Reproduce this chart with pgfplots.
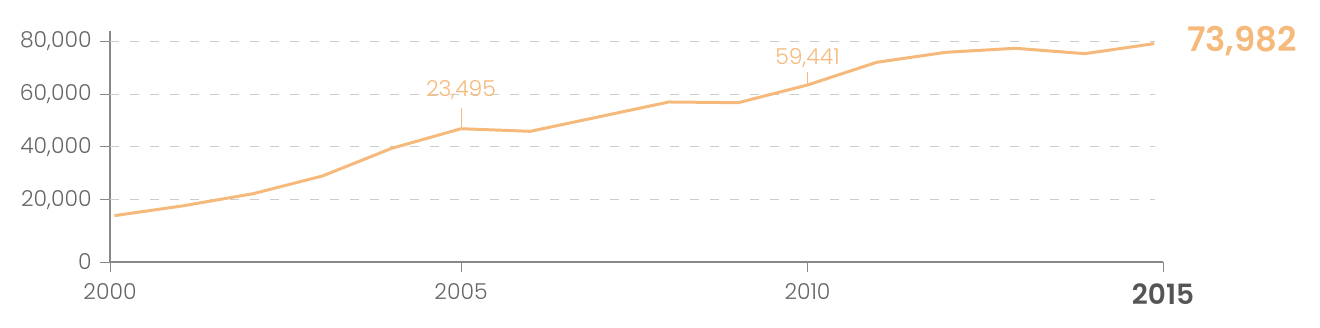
\documentclass[border=0pt]{standalone}
\usepackage{pgfplots}
\pgfplotsset{compat=1.18}
\usepackage{fontspec}
\setmainfont{Poppins}[UprightFont=* Light, BoldFont=* SemiBold]
\definecolor{lineor}{HTML}{F5B97B}
\definecolor{tickgray}{HTML}{666666}
\definecolor{axgray}{HTML}{888888}
\definecolor{gridgray}{HTML}{CCCCCC}
\definecolor{darkgray}{HTML}{555555}
\begin{document}
\begin{tikzpicture}[x=1bp,y=1bp]
\path[use as bounding box] (0,0) rectangle (1320,327);
\begin{axis}[
  at={(110bp,65bp)}, anchor=south west,
  scale only axis, width=1053bp, height=231bp,
  xmin=1999.935, xmax=2015.13, ymin=-3400, ymax=83774,
  scaled y ticks=false,
  axis x line*=bottom, axis y line*=left,
  axis line style={axgray, line width=1.2bp},
  tick align=outside, major tick length=10bp,
  tick style={axgray, line width=1bp},
  xtick={1999.935,2005,2010,2015.13},
  xticklabels={2000,2005,2010,{\fontsize{28}{28}\selectfont\bfseries\color{darkgray}2015}},
  ytick={-3400,20000,40000,60000,80000},
  yticklabels={0,{20,000},{40,000},{60,000},{80,000}},
  ticklabel style={font=\fontsize{22}{22}\selectfont, text=tickgray},
  xticklabel shift=8bp, yticklabel shift=5bp,
  clip=false,
]
\foreach \v in {20000,40000,60000,80000}{
  \edef\tmp{\noexpand\draw[gridgray, line width=1bp, dash pattern=on 9bp off 11bp] (axis cs:1999.935,\v) -- (axis cs:2015.01,\v);}
  \tmp
}
\addplot[lineor, line width=3bp, line join=round] coordinates {
(2000,14100) (2001,17850) (2002,22380) (2003,29060) (2004,39500)
(2005,46900) (2006,45920) (2007,51440) (2008,56990) (2009,56720)
(2010,63400) (2011,71970) (2012,75740) (2013,77250) (2014,75220)
(2015,78990)};
\draw[lineor, line width=1bp] (axis cs:2005,54720) -- (axis cs:2005,46900);
\draw[lineor, line width=1bp] (axis cs:2010,68310) -- (axis cs:2010,63400);
\node[anchor=base, text=lineor, inner sep=0pt, font=\fontsize{22}{22}\selectfont] at (axis cs:2005,58870) {23,495};
\node[anchor=base, text=lineor, inner sep=0pt, font=\fontsize{22}{22}\selectfont] at (axis cs:2010,70950) {59,441};
\node[anchor=base, text=lineor, inner sep=0pt, font=\fontsize{34}{34}\selectfont\bfseries] at (axis cs:2016.27,75860) {73,982};
\end{axis}
\end{tikzpicture}
\end{document}
